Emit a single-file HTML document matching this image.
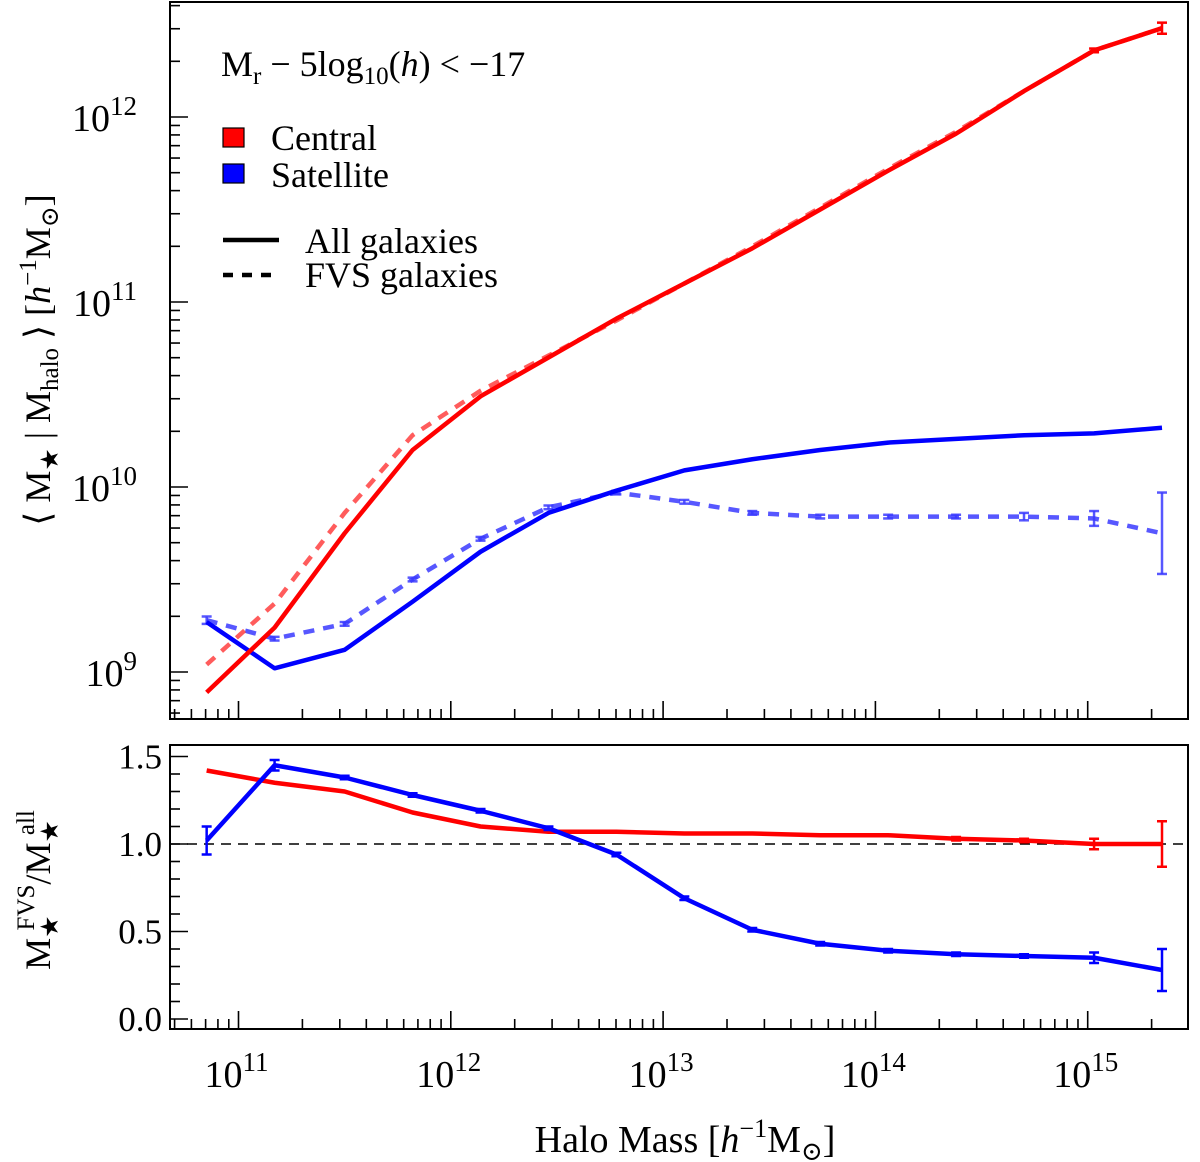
<!DOCTYPE html>
<html><head><meta charset="utf-8"><style>
html,body{margin:0;padding:0;background:#fff;font-family:"Liberation Serif","DejaVu Serif",serif;}
svg{display:block;}
svg text{font-family:"Liberation Serif","DejaVu Serif",serif;}
</style></head><body>
<svg id="c" width="1200" height="1162" viewBox="0 0 1200 1162" xmlns="http://www.w3.org/2000/svg" font-family="Liberation Serif, DejaVu Serif, serif"></svg>
<script>
const logMass=[10.85,11.17,11.50,11.82,12.14,12.46,12.78,13.10,13.42,13.74,14.06,14.38,14.70,15.03,15.35];
const cenAll=[8.89,9.24,9.75,10.20,10.49,10.70,10.91,11.10,11.29,11.50,11.71,11.91,12.14,12.36,12.48];
const cenFVS=[9.04,9.37,9.86,10.28,10.52,10.71,10.90,11.10,11.30,11.51,11.72,11.92,12.14,12.36,12.48];
const satAll=[9.27,9.02,9.12,9.38,9.65,9.86,9.98,10.09,10.15,10.20,10.24,10.26,10.28,10.29,10.32];
const satFVS=[9.28,9.18,9.26,9.50,9.72,9.89,9.97,9.92,9.86,9.84,9.84,9.84,9.84,9.83,9.75];
const satFVSErr=[0.02,0.01,0.01,0.01,0.01,0.01,0.01,0.01,0.01,0.01,0.01,0.01,0.02,0.04,0.22];
const cenErrTop=[0,0,0,0,0,0,0,0,0,0,0,0,0,0.01,0.03];
const ratioCen=[1.42,1.35,1.30,1.18,1.10,1.07,1.07,1.06,1.06,1.05,1.05,1.03,1.02,1.00,1.00];
const ratioSat=[1.02,1.45,1.38,1.28,1.19,1.09,0.94,0.69,0.51,0.43,0.39,0.37,0.36,0.35,0.28];
const ratioCenErr=[0,0,0,0,0,0,0,0,0,0,0,0.01,0.01,0.03,0.13];
const ratioSatErr=[0.08,0.03,0.01,0.01,0.01,0.01,0.01,0.01,0.01,0.01,0.01,0.01,0.01,0.03,0.12];
const xTicks=[11,12,13,14,15];
const yTopTicks=[9,10,11,12];
const yBotTicks=[0.0,0.5,1.0,1.5];

const NS="http://www.w3.org/2000/svg";
const svg=document.getElementById('c');
const L=170,R=1188,T1=2,B1=719,T2=745,B2=1029;
const X=v=>238.5+(v-11)*212.3;
const YT=v=>117-(v-12)*185;
const YB=v=>844-(v-1)*175;
function el(tag,attrs,parent){const e=document.createElementNS(NS,tag);for(const k in attrs)e.setAttribute(k,attrs[k]);(parent||svg).appendChild(e);return e;}

const f1=el('rect',{x:L,y:T1,width:R-L,height:B1-T1,fill:'none',stroke:'#000','stroke-width':2});


const f2=el('rect',{x:L,y:T2,width:R-L,height:B2-T2,fill:'none',stroke:'#000','stroke-width':2});



[B1,B2].forEach(b=>{
  for(let d=10;d<=15;d++){for(let m=1;m<10;m++){const v=d+Math.log10(m);const x=X(v);if(x<L+1||x>R-1)continue;
    el('line',{x1:x,x2:x,y1:b,y2:b-(m===1?18:10),stroke:'#000','stroke-width':1.6});}}
});
for(let d=8;d<=12;d++){for(let m=1;m<10;m++){const v=d+Math.log10(m);const y=YT(v);if(y<T1+1||y>B1-1)continue;
  el('line',{x1:L,x2:L+(m===1?18:10),y1:y,y2:y,stroke:'#000','stroke-width':1.6});}}
for(let i=0;i<=16;i++){const v=i*0.1;const y=YB(v);if(y<T2+1||y>B2-1)continue;
  el('line',{x1:L,x2:L+(i%5===0?18:10),y1:y,y2:y,stroke:'#000','stroke-width':1.6});}

xTicks.forEach(t=>{const g=el('text',{x:X(t)-2,y:1087,'font-size':38,'text-anchor':'middle'});
  
  
  g.innerHTML='10<tspan dy="-16" font-size="27">'+t+'</tspan>';});
yTopTicks.forEach(t=>{const g=el('text',{x:137,y:YT(t)+14,'font-size':38,'text-anchor':'end'});
  
  
  g.innerHTML='10<tspan dy="-16" font-size="27">'+t+'</tspan>';});
yBotTicks.forEach(t=>{const g=el('text',{x:162,y:YB(t)+12,'font-size':35,'text-anchor':'end'});
  
  
  g.textContent=t.toFixed(1);});

function line(xs,ys,yf,color,dash,name,op){
  const p=el('polyline',{points:xs.map((v,i)=>X(v)+','+yf(ys[i])).join(' '),fill:'none',stroke:color,'stroke-width':4.5,'stroke-linejoin':'round','stroke-opacity':op||1});
  if(dash)p.setAttribute('stroke-dasharray',dash);
  
  
}
function errs(xs,ys,es,yf,color,name,op){
  xs.forEach((v,i)=>{if(!es[i])return;const x=X(v),y1=yf(ys[i]-es[i]),y2=yf(ys[i]+es[i]);
    const g=el('g',{stroke:color,'stroke-width':2.5,'stroke-opacity':op||1});
    
    
    el('line',{x1:x,x2:x,y1:y1,y2:y2},g);el('line',{x1:x-5,x2:x+5,y1:y1,y2:y1},g);el('line',{x1:x-5,x2:x+5,y1:y2,y2:y2},g);});
}
line(logMass,satFVS,YT,'#3a3aff','11,9','satellite-fvs-line',0.85);
errs(logMass,satFVS,satFVSErr,YT,'#3a3aff','satellite-fvs-errorbar',0.85);
line(logMass,cenFVS,YT,'#ff4040','11,9','central-fvs-line',0.85);
line(logMass,satAll,YT,'#0000ff',null,'satellite-all-line');
line(logMass,cenAll,YT,'#ff0000',null,'central-all-line');
errs(logMass,cenAll,cenErrTop,YT,'#ff0000','central-errorbar');
const ref=el('line',{x1:L,x2:R,y1:YB(1),y2:YB(1),stroke:'#000','stroke-width':1.5,'stroke-dasharray':'10,7'});


line(logMass,ratioCen,YB,'#ff0000',null,'central-ratio-line');
errs(logMass,ratioCen,ratioCenErr,YB,'#ff0000','central-ratio-errorbar');
line(logMass,ratioSat,YB,'#0000ff',null,'satellite-ratio-line');
errs(logMass,ratioSat,ratioSatErr,YB,'#0000ff','satellite-ratio-errorbar');
</script>
<svg width="1200" height="1162" style="position:absolute;left:0;top:0" font-family="Liberation Serif, DejaVu Serif, serif">
<text x="221" y="76" font-size="36">M<tspan dy="8" font-size="25">r</tspan><tspan dy="-8"> − 5log</tspan><tspan dy="8" font-size="25">10</tspan><tspan dy="-8">(<tspan font-style="italic">h</tspan>) &lt; −17</tspan></text>
<g>
<rect x="223" y="128" width="21" height="19" fill="#ff0000" stroke="#000" stroke-width="1.2"/>
<text x="271" y="150" font-size="36">Central</text>
<rect x="223" y="164" width="21" height="19" fill="#0000ff" stroke="#000" stroke-width="1.2"/>
<text x="271" y="187" font-size="36">Satellite</text>
<line x1="223" x2="279" y1="240" y2="240" stroke="#000" stroke-width="4.5"/>
<text x="305" y="253" font-size="36">All galaxies</text>
<line x1="223" x2="279" y1="275" y2="275" stroke="#000" stroke-width="4.5" stroke-dasharray="10,9"/>
<text x="305" y="287" font-size="36">FVS galaxies</text>
</g>
<text transform="translate(50,360) rotate(-90)" font-size="36" text-anchor="middle">⟨ M<tspan dy="8" font-size="25">★</tspan><tspan dy="-8"> | M</tspan><tspan dy="8" font-size="25">halo</tspan><tspan dy="-8"> ⟩ [</tspan><tspan font-style="italic">h</tspan><tspan dy="-14" font-size="25">−1</tspan><tspan dy="14">M</tspan><tspan dy="8" font-size="25">⊙</tspan><tspan dy="-8">]</tspan></text>
<text transform="translate(50,890) rotate(-90)" font-size="36" text-anchor="middle">M<tspan dy="8" font-size="25">★</tspan><tspan dy="-24" dx="-15" font-size="25">FVS</tspan><tspan dy="16">/M</tspan><tspan dy="8" font-size="25">★</tspan><tspan dy="-24" dx="-15" font-size="25">all</tspan></text>
<text x="685" y="1152" font-size="38" text-anchor="middle">Halo Mass [<tspan font-style="italic">h</tspan><tspan dy="-15" font-size="26">−1</tspan><tspan dy="15">M</tspan><tspan dy="8" font-size="26">⊙</tspan><tspan dy="-8">]</tspan></text>
</svg>
</body></html>
